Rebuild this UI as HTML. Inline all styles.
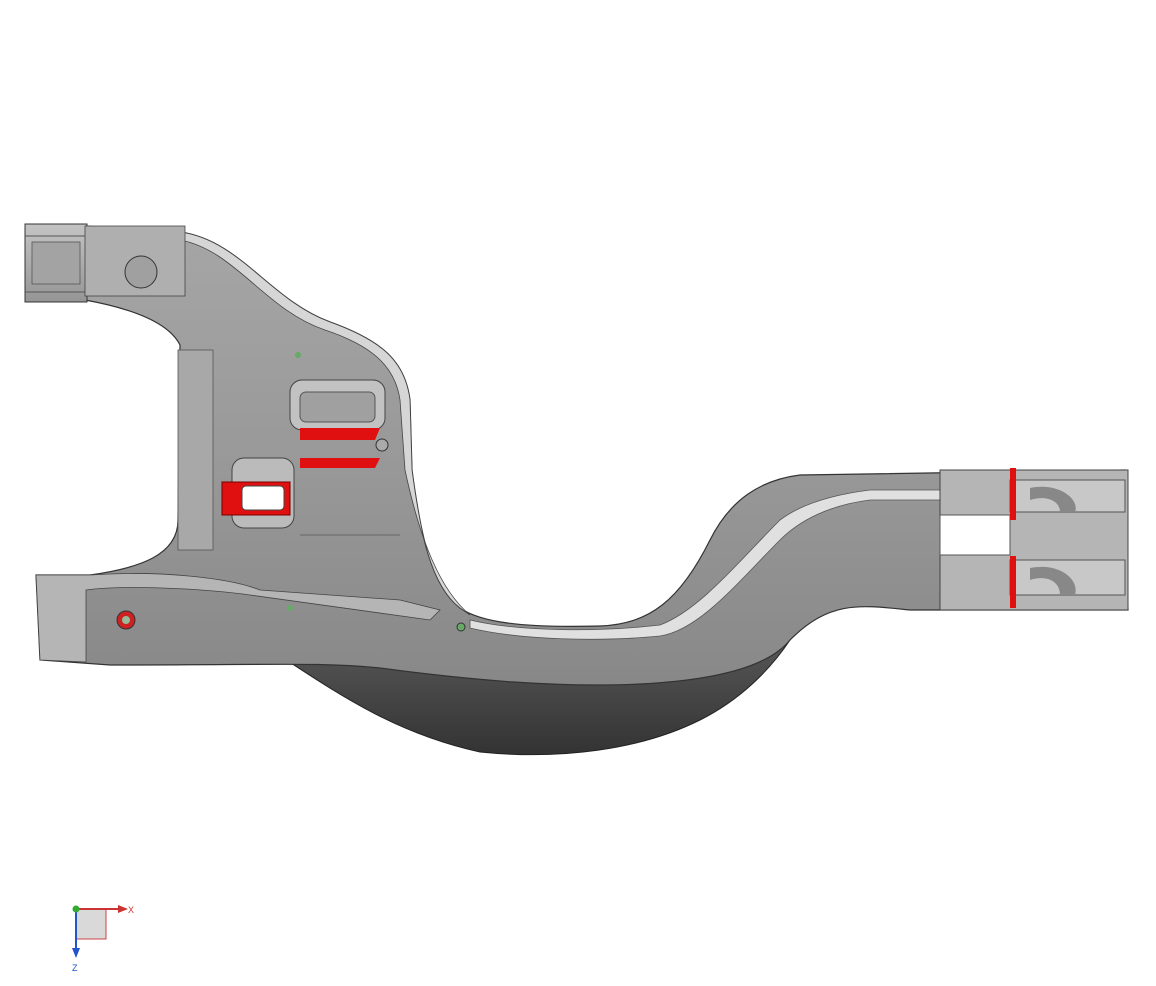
<!DOCTYPE html>
<html><head><meta charset="utf-8"><style>
html,body{margin:0;padding:0;background:#fff;width:1156px;height:986px;overflow:hidden}
</style></head><body>
<svg width="1156" height="986" viewBox="0 0 1156 986" xmlns="http://www.w3.org/2000/svg">
<defs>
<linearGradient id="g1" x1="0" y1="0" x2="0" y2="1">
<stop offset="0" stop-color="#a6a6a6"/><stop offset="0.5" stop-color="#999"/><stop offset="1" stop-color="#888"/>
</linearGradient>
<linearGradient id="g2" x1="0" y1="0" x2="0" y2="1">
<stop offset="0" stop-color="#c4c4c4"/><stop offset="1" stop-color="#959595"/>
</linearGradient>
<linearGradient id="dk" x1="0" y1="0" x2="0" y2="1">
<stop offset="0" stop-color="#5a5a5a"/><stop offset="1" stop-color="#333"/>
</linearGradient>
</defs>
<path d="M240,630 C320,680 380,730 480,752 C560,760 640,750 700,720 C740,700 770,670 790,640 L760,640 C700,670 560,680 470,670 C380,665 300,650 240,630Z" fill="url(#dk)" stroke="#222" stroke-width="1"/>
<path d="M85,226 L180,232 C240,240 270,300 330,322 C380,340 405,360 410,400 L412,470 C420,530 430,585 460,608 C480,622 520,628 600,626 C650,624 680,600 710,540 C730,500 760,480 800,475 L1125,470 L1128,610 L910,610 C860,605 830,600 790,640 C770,665 720,680 640,684 C560,688 470,680 380,668 C320,662 280,665 110,665 L40,660 L36,575 L90,575 C140,568 178,555 178,520 L180,345 C170,325 140,310 85,300 Z" fill="url(#g1)" stroke="#333" stroke-width="1.2"/>
<path d="M180,232 C240,240 270,300 330,322 C380,340 405,360 410,400 L412,470 C420,530 430,585 460,608 L470,615 C440,590 420,540 405,470 L400,400 C395,365 370,345 325,330 C265,310 235,250 180,240Z" fill="#d6d6d6" stroke="#444" stroke-width="0.8"/>
<path d="M470,620 C520,632 600,632 660,625 C700,610 740,560 780,520 C800,505 830,495 870,490 L1000,490 L1000,500 L870,500 C830,505 800,520 780,540 C740,580 700,630 660,636 C600,642 520,640 470,628Z" fill="#e0e0e0" stroke="#555" stroke-width="0.8"/>
<path d="M36,575 L90,575 C160,570 230,578 260,590 L400,600 L440,610 L430,620 L250,595 C200,588 120,585 86,590 L86,662 L40,660Z" fill="#b5b5b5" stroke="#444" stroke-width="0.8"/>
<rect x="25" y="224" width="62" height="78" fill="url(#g2)" stroke="#333"/>
<rect x="32" y="242" width="48" height="42" fill="#a3a3a3" stroke="#555" stroke-width="0.8"/>
<line x1="25" y1="236" x2="87" y2="236" stroke="#555"/>
<line x1="25" y1="292" x2="87" y2="292" stroke="#555"/>
<rect x="85" y="226" width="100" height="70" fill="#afafaf" stroke="#444" stroke-width="0.8"/>
<circle cx="141" cy="272" r="16" fill="#a0a0a0" stroke="#333"/>
<rect x="178" y="350" width="35" height="200" fill="#a8a8a8" stroke="#555" stroke-width="0.8"/>
<rect x="290" y="380" width="95" height="50" rx="12" fill="#c2c2c2" stroke="#444"/>
<rect x="300" y="392" width="75" height="30" rx="6" fill="#a0a0a0" stroke="#555"/>
<rect x="232" y="458" width="62" height="70" rx="12" fill="#bbb" stroke="#444"/>
<path d="M222,482 L290,482 L290,515 L222,515Z" fill="#e01010" stroke="#700"/>
<rect x="242" y="486" width="42" height="24" rx="4" fill="#fff" stroke="#444"/>
<path d="M300,428 L380,428 L375,440 L300,440Z" fill="#e01010"/>
<path d="M300,458 L380,458 L375,468 L300,468Z" fill="#e01010"/>
<circle cx="382" cy="445" r="6" fill="#aaa" stroke="#333"/>
<line x1="300" y1="535" x2="400" y2="535" stroke="#666"/>
<rect x="940" y="470" width="188" height="140" fill="#b5b5b5" stroke="#444"/>
<rect x="940" y="515" width="70" height="40" fill="#fff" stroke="#555"/>
<path d="M1010,480 L1125,480 L1125,512 L1010,512Z" fill="#c8c8c8" stroke="#555"/>
<path d="M1010,560 L1125,560 L1125,595 L1010,595Z" fill="#c8c8c8" stroke="#555"/>
<path d="M1030,488 C1060,482 1080,500 1075,512 L1060,512 C1060,500 1045,495 1030,500Z" fill="#888"/>
<path d="M1030,568 C1060,562 1080,580 1075,595 L1060,595 C1060,580 1045,575 1030,580Z" fill="#888"/>
<rect x="1010" y="468" width="6" height="52" fill="#e01010"/>
<rect x="1010" y="556" width="6" height="52" fill="#e01010"/>
<circle cx="126" cy="620" r="9" fill="#c22" stroke="#333"/>
<circle cx="126" cy="620" r="4" fill="#9b9"/>
<circle cx="298" cy="355" r="3" fill="#6a6"/>
<circle cx="290" cy="608" r="3" fill="#6a6"/>
<circle cx="461" cy="627" r="4" fill="#6a6" stroke="#333"/>
<rect x="76" y="909" width="30" height="30" fill="#d9d9d9" stroke="#c44"/>
<line x1="76" y1="909" x2="120" y2="909" stroke="#c33" stroke-width="2"/>
<polygon points="118,905 128,909 118,913" fill="#c33"/>
<line x1="76" y1="909" x2="76" y2="950" stroke="#2255cc" stroke-width="2"/>
<polygon points="72,948 76,958 80,948" fill="#2255cc"/>
<circle cx="76" cy="909" r="3.5" fill="#3a3"/>
<text x="128" y="913" font-family="Liberation Sans, sans-serif" font-size="9" fill="#c33">X</text>
<text x="72" y="971" font-family="Liberation Sans, sans-serif" font-size="9" fill="#2255cc">Z</text>
</svg>
</body></html>
